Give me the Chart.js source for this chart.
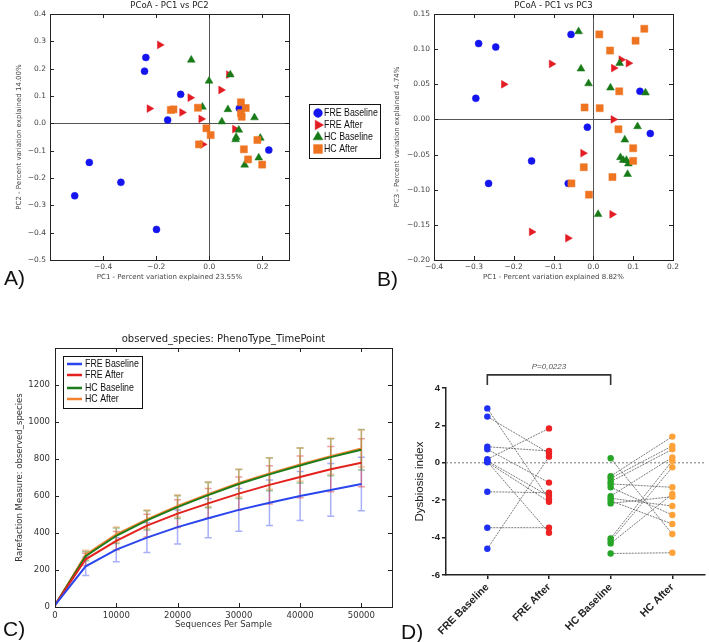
<!DOCTYPE html>
<html>
<head>
<meta charset="utf-8">
<title>Microbiome figure</title>
<script src="https://cdn.jsdelivr.net/npm/chart.js"></script>
<style>
  html, body { margin: 0; padding: 0; background: #fff; }
  body { width: 709px; height: 642px; position: relative; overflow: hidden; font-family: 'Liberation Sans', Arial, sans-serif; }
  canvas { position: absolute; }
  .tag { position: absolute; font-size: 21px; line-height: 1; color: #111; }
</style>
</head>
<body>
<canvas id="pcA" width="390" height="300" style="left:0;top:0"></canvas>
<canvas id="pcB" width="319" height="300" style="left:390px;top:0"></canvas>
<canvas id="rare" width="395" height="322" style="left:0;top:320px"></canvas>
<canvas id="dys" width="329" height="302" style="left:380px;top:340px"></canvas>
<div class="tag" style="left:4px;top:267px">A)</div>
<div class="tag" style="left:377px;top:268px">B)</div>
<div class="tag" style="left:3px;top:618px">C)</div>
<div class="tag" style="left:401px;top:621px">D)</div>

<script>
// PCoA PC1 vs PC2  [pc1, pc2]
const aFreBaseline = [[-0.239,0.241],[-0.244,0.191],[-0.108,0.106],[-0.157,0.012],[0.113,0.055],[0.224,-0.098],[-0.452,-0.143],[-0.333,-0.216],[-0.507,-0.265],[-0.199,-0.388]];
const aFreAfter = [[-0.187,0.287],[0.073,0.178],[0.044,0.122],[-0.072,0.094],[-0.226,0.054],[-0.103,0.040],[-0.031,0.016],[0.096,-0.021],[-0.025,-0.077]];
const aHcBaseline = [[-0.068,0.232],[0.079,0.178],[-0.001,0.155],[-0.026,0.060],[0.070,0.051],[0.170,0.021],[0.047,0.006],[0.111,-0.024],[0.101,-0.051],[0.099,-0.059],[0.192,-0.054],[0.186,-0.126],[0.133,-0.152]];
const aHcAfter = [[0.119,0.077],[0.137,0.056],[0.119,0.037],[0.122,0.024],[-0.145,0.049],[-0.135,0.051],[-0.043,0.057],[-0.011,-0.018],[0.005,-0.043],[-0.039,-0.077],[0.181,-0.061],[0.130,-0.095],[0.146,-0.132],[0.199,-0.151]];

// PCoA PC1 vs PC3  [pc1, pc3]
const bFreBaseline = [[-0.288,0.108],[-0.245,0.103],[-0.056,0.121],[-0.295,0.030],[0.117,0.040],[-0.015,-0.011],[0.143,-0.020],[-0.155,-0.059],[-0.263,-0.091],[-0.063,-0.091]];
const bFreAfter = [[-0.105,0.079],[-0.225,0.050],[0.070,0.085],[0.088,0.080],[0.051,0.073],[0.050,0.000],[-0.026,-0.048],[0.047,-0.135],[-0.155,-0.160],[-0.064,-0.169]];
const bHcBaseline = [[-0.037,0.125],[-0.031,0.072],[-0.012,0.051],[0.066,0.080],[0.043,0.045],[0.131,0.038],[0.111,-0.010],[0.079,-0.029],[0.068,-0.054],[0.075,-0.058],[0.083,-0.058],[0.088,-0.063],[0.086,-0.078],[0.012,-0.135]];
const bHcAfter = [[0.128,0.129],[0.106,0.112],[0.015,0.121],[0.042,0.098],[0.065,0.040],[-0.022,0.017],[0.016,0.016],[0.063,-0.014],[0.100,-0.041],[0.100,-0.059],[0.048,-0.082],[-0.024,-0.068],[-0.055,-0.091],[-0.011,-0.107]];

// rarefaction curves (mean and error)
const depth = [0, 5000, 10000, 15000, 20000, 25000, 30000, 35000, 40000, 45000, 50000];
const depthTicks = [0, 10000, 20000, 30000, 40000, 50000];
const rareFreBaseline = [10, 220, 310, 375, 432, 480, 525, 563, 600, 633, 665];
const rareFreBaselineErr = [0, 50, 65, 80, 92, 105, 115, 123, 133, 143, 145];
const rareFreAfter = [10, 258, 358, 440, 505, 560, 613, 660, 703, 745, 780];
const rareFreAfterErr = [0, 33, 50, 62, 75, 80, 90, 103, 113, 122, 130];
const rareHcBaseline = [10, 275, 385, 468, 540, 605, 665, 717, 765, 810, 850];
const rareHcBaselineErr = [0, 25, 42, 52, 62, 68, 78, 88, 95, 100, 110];
const rareHcAfter = [10, 282, 392, 474, 547, 610, 670, 722, 770, 815, 857];
const rareHcAfterErr = [0, 25, 40, 50, 60, 67, 75, 85, 90, 97, 100];

// dysbiosis index, paired by position
const dysGroups = ['FRE Baseline', 'FRE After', 'HC Baseline', 'HC After'];
const dysFreBaseline = [2.91, 2.47, 0.86, 0.72, 0.19, 0.10, 0.06, 0.03, -1.55, -3.47, -4.60];
const dysFreAfter = [-1.95, 0.51, 0.63, -1.06, 1.84, -1.78, -3.74, -2.08, -1.60, -3.47, 0.33];
const dysHcBaseline = [0.24, -0.71, -0.83, -1.01, -1.13, -1.31, -1.78, -1.90, -2.03, -2.17, -4.04, -4.17, -4.31, -4.85];
const dysHcAfter = [-3.81, 1.40, 0.90, 0.72, -1.31, -2.79, 0.29, -2.31, -3.27, -1.81, 0.11, -0.24, -1.67, -4.81];
const dysPText = 'P=0,0223';

Chart.defaults.font.family = "'DejaVu Sans', sans-serif";
Chart.defaults.color = '#333';

const blue = '#1414ee', red = '#e31b23', green = '#177a17', orange = '#ee7421';
const legendFont = "11px 'Liberation Sans', sans-serif";

function signed(dec) {
  return v => Math.abs(v) < 1e-9 ? (0).toFixed(dec) : (v < 0 ? '\u2212' : '') + Math.abs(v).toFixed(dec);
}
function pts(pairs) {
  return pairs.map(p => ({ x: p[0], y: p[1] }));
}

// title centred over the plot box
const headPlugin = {
  id: 'head',
  afterDraw(chart, args, o) {
    const { ctx, chartArea: a } = chart;
    ctx.save();
    ctx.font = o.font;
    ctx.fillStyle = '#222';
    ctx.textAlign = 'center';
    ctx.textBaseline = 'middle';
    ctx.fillText(o.text, (a.left + a.right) / 2, o.y);
    ctx.restore();
  }
};

// matplotlib style box with inward ticks
const framePlugin = {
  id: 'frame',
  afterDatasetsDraw(chart) {
    const { ctx, chartArea: a, scales } = chart;
    const len = 4;
    ctx.save();
    ctx.strokeStyle = '#222';
    ctx.lineWidth = 1;
    ctx.beginPath();
    scales.x.ticks.forEach(t => {
      const px = Math.round(scales.x.getPixelForValue(t.value)) + 0.5;
      ctx.moveTo(px, a.bottom); ctx.lineTo(px, a.bottom - len);
      ctx.moveTo(px, a.top); ctx.lineTo(px, a.top + len);
    });
    scales.y.ticks.forEach(t => {
      const py = Math.round(scales.y.getPixelForValue(t.value)) + 0.5;
      ctx.moveTo(a.left, py); ctx.lineTo(a.left + len, py);
      ctx.moveTo(a.right, py); ctx.lineTo(a.right - len, py);
    });
    ctx.stroke();
    ctx.strokeRect(Math.round(a.left) + 0.5, Math.round(a.top) + 0.5,
      Math.round(a.right - a.left), Math.round(a.bottom - a.top));
    ctx.restore();
  }
};

// boxed legend at a fixed spot (text squeezed a bit, like the narrow original font)
const boxLegend = {
  id: 'boxLegend',
  afterDraw(chart, args, o) {
    const ctx = chart.ctx;
    ctx.save();
    ctx.fillStyle = '#fff';
    ctx.fillRect(o.left, o.top, o.width, o.height);
    ctx.strokeStyle = '#111';
    ctx.lineWidth = 1;
    ctx.strokeRect(o.left + 0.5, o.top + 0.5, o.width, o.height);
    chart.data.datasets.forEach((ds, i) => {
      const y = o.rows[i];
      if (y === undefined) return;
      if (o.kind === 'line') {
        ctx.strokeStyle = ds.borderColor;
        ctx.lineWidth = 2.5;
        ctx.beginPath();
        ctx.moveTo(o.markX, y);
        ctx.lineTo(o.markX + 15, y);
        ctx.stroke();
      } else {
        ctx.fillStyle = ds.backgroundColor;
        ctx.strokeStyle = ds.borderColor;
        ctx.lineWidth = 0.5;
        Chart.helpers.drawPoint(ctx, {
          pointStyle: ds.pointStyle, rotation: ds.pointRotation || 0,
          radius: ds.pointRadius * 1.25, borderWidth: 0.5
        }, o.markX, y);
      }
      ctx.save();
      ctx.translate(o.textX, y);
      ctx.scale(o.squeeze, 1);
      ctx.font = legendFont;
      ctx.textBaseline = 'middle';
      ctx.textAlign = 'left';
      ctx.fillStyle = '#111';
      ctx.fillText(ds.label, 0, 0);
      ctx.restore();
    });
    ctx.restore();
  }
};

// vertical error bars from dataset.errors
const errorBars = {
  id: 'errorBars',
  beforeDatasetsDraw(chart) {
    const ctx = chart.ctx;
    const ys = chart.scales.y;
    chart.data.datasets.forEach((ds, i) => {
      if (!ds.errors) return;
      const meta = chart.getDatasetMeta(i);
      ctx.save();
      ctx.strokeStyle = ds.errorColor;
      ctx.lineWidth = 1.5;
      ctx.beginPath();
      meta.data.forEach((el, j) => {
        const e = ds.errors[j];
        if (!e) return;
        const v = ds.data[j].y;
        const top = ys.getPixelForValue(v + e);
        const bot = ys.getPixelForValue(v - e);
        ctx.moveTo(el.x, top); ctx.lineTo(el.x, bot);
        ctx.moveTo(el.x - 3.5, top); ctx.lineTo(el.x + 3.5, top);
        ctx.moveTo(el.x - 3.5, bot); ctx.lineTo(el.x + 3.5, bot);
      });
      ctx.stroke();
      ctx.restore();
    });
  }
};

// p value above the bracket
const pNote = {
  id: 'pNote',
  afterDraw(chart, args, o) {
    const { ctx, scales } = chart;
    ctx.save();
    ctx.font = "italic 8px 'Liberation Sans', sans-serif";
    ctx.fillStyle = '#555';
    ctx.textAlign = 'center';
    ctx.textBaseline = 'middle';
    ctx.fillText(o.text, scales.x.getPixelForValue(o.x), scales.y.getPixelForValue(o.y));
    ctx.restore();
  }
};

function scatterSet(label, pairs, color, style, rot, r, order) {
  return {
    label: label, data: pts(pairs), order: order,
    pointStyle: style, pointRotation: rot, pointRadius: r,
    backgroundColor: color, borderColor: color, borderWidth: 0.5
  };
}

const tickFont = { size: 7.5 };
const zeroGrid = {
  drawTicks: false,
  color: c => (c.tick && Math.abs(c.tick.value) < 1e-9) ? '#555' : 'rgba(0,0,0,0)'
};

function pcoaChart(id, sets, cfg) {
  return new Chart(document.getElementById(id), {
    type: 'scatter',
    data: {
      datasets: [
        scatterSet('FRE Baseline', sets[0], blue, 'circle', 0, 3.5, 3),
        scatterSet('FRE After', sets[1], red, 'triangle', 90, 4.5, 2),
        scatterSet('HC Baseline', sets[2], green, 'triangle', 0, 4.5, 1),
        scatterSet('HC After', sets[3], orange, 'rect', 0, 5, 0)
      ]
    },
    plugins: cfg.legend ? [headPlugin, framePlugin, boxLegend] : [headPlugin, framePlugin],
    options: {
      responsive: false,
      animation: false,
      events: [],
      layout: { padding: { left: 0, top: 14, right: cfg.right, bottom: 16 } },
      plugins: {
        legend: { display: false },
        tooltip: { enabled: false },
        head: { text: cfg.title, y: 6, font: "8.5px 'DejaVu Sans', sans-serif" },
        boxLegend: cfg.legend
      },
      scales: {
        x: {
          type: 'linear', min: cfg.xMin, max: cfg.xMax,
          afterFit: s => { s.height = 24; },
          ticks: { stepSize: cfg.xStep, includeBounds: false, maxRotation: 0, padding: 3,
                   font: tickFont, color: '#444', callback: signed(1) },
          grid: zeroGrid,
          border: { display: false },
          title: { display: true, text: cfg.xTitle, font: { size: 7 }, color: '#444', padding: { top: 0, bottom: 3 } }
        },
        y: {
          min: cfg.yMin, max: cfg.yMax,
          afterFit: s => { s.width = cfg.yWidth; },
          ticks: { stepSize: cfg.yStep, includeBounds: false, padding: 4,
                   font: tickFont, color: '#444', callback: signed(cfg.yDec) },
          grid: zeroGrid,
          border: { display: false },
          title: { display: true, text: cfg.yTitle, font: { size: 7 }, color: '#444', padding: { top: cfg.yTitlePad, bottom: 0 } }
        }
      }
    }
  });
}

pcoaChart('pcA', [aFreBaseline, aFreAfter, aHcBaseline, aHcAfter], {
  title: 'PCoA - PC1 vs PC2',
  xTitle: 'PC1 - Percent variation explained 23.55%',
  yTitle: 'PC2 - Percent variation explained 14.00%',
  xMin: -0.6, xMax: 0.3, xStep: 0.2,
  yMin: -0.5, yMax: 0.4, yStep: 0.1, yDec: 1,
  yWidth: 50, yTitlePad: 15, right: 101,
  legend: { left: 309, top: 104, width: 71, height: 54, rows: [113, 125, 137, 149], markX: 318, textX: 324, squeeze: 0.8 }
});

pcoaChart('pcB', [bFreBaseline, bFreAfter, bHcBaseline, bHcAfter], {
  title: 'PCoA - PC1 vs PC3',
  xTitle: 'PC1 - Percent variation explained 8.82%',
  yTitle: 'PC3 - Percent variation explained 4.74%',
  xMin: -0.4, xMax: 0.2, xStep: 0.1,
  yMin: -0.2, yMax: 0.15, yStep: 0.05, yDec: 2,
  yWidth: 44, yTitlePad: 3, right: 36,
  legend: null
});

// rarefaction
function curve(label, vals, errs, color, errColor) {
  return {
    label: label,
    data: depth.map((d, i) => ({ x: d, y: vals[i] })),
    errors: errs, errorColor: errColor,
    borderColor: color, borderWidth: 2, pointRadius: 0, tension: 0, fill: false
  };
}

new Chart(document.getElementById('rare'), {
  type: 'line',
  data: {
    datasets: [
      curve('FRE Baseline', rareFreBaseline, rareFreBaselineErr, '#2b45ee', 'rgba(60,80,240,0.45)'),
      curve('FRE After', rareFreAfter, rareFreAfterErr, '#e4221d', 'rgba(225,40,40,0.45)'),
      curve('HC Baseline', rareHcBaseline, rareHcBaselineErr, '#1d7d1d', 'rgba(40,130,40,0.45)'),
      curve('HC After', rareHcAfter, rareHcAfterErr, '#f3812d', 'rgba(240,130,50,0.45)')
    ]
  },
  plugins: [errorBars, headPlugin, framePlugin, boxLegend],
  options: {
    responsive: false,
    animation: false,
    events: [],
    layout: { padding: { left: 0, top: 28, right: 3, bottom: 11 } },
    plugins: {
      legend: { display: false },
      tooltip: { enabled: false },
      head: { text: 'observed_species: PhenoType_TimePoint', y: 19, font: "10px 'DejaVu Sans', sans-serif" },
      boxLegend: { kind: 'line', left: 63, top: 36, width: 79, height: 52, rows: [44, 55, 68, 79], markX: 67, textX: 85, squeeze: 0.8 }
    },
    scales: {
      x: {
        type: 'linear', min: 0, max: 55000,
        afterFit: s => { s.height = 24; },
        afterBuildTicks: s => { s.ticks = depthTicks.map(v => ({ value: v })); },
        ticks: { maxRotation: 0, padding: 4, autoSkip: false,
                 font: { size: 8.5 }, color: '#333', callback: v => String(v) },
        grid: { display: false, drawTicks: false },
        border: { display: false },
        title: { display: true, text: 'Sequences Per Sample', font: { size: 8.5 }, color: '#333', padding: { top: 0, bottom: 1 } }
      },
      y: {
        min: 0, max: 1400,
        afterFit: s => { s.width = 55; },
        afterBuildTicks: s => { s.ticks = s.ticks.filter(t => t.value <= 1200); },
        ticks: { stepSize: 200, padding: 5, font: { size: 8.5 }, color: '#333', callback: v => String(v) },
        grid: { display: false, drawTicks: false },
        border: { display: false },
        title: { display: true, text: 'Rarefaction Measure: observed_species', font: { size: 8.5 }, color: '#333', padding: { top: 15, bottom: 0 } }
      }
    }
  }
});

// dysbiosis index
const pairLines = [];
dysFreBaseline.forEach((v, i) => {
  pairLines.push({ x: 0, y: v }, { x: 1, y: dysFreAfter[i] }, { x: 0.5, y: null });
});
dysHcBaseline.forEach((v, i) => {
  pairLines.push({ x: 2, y: v }, { x: 3, y: dysHcAfter[i] }, { x: 2.5, y: null });
});

const dysXMin = -0.67, dysXMax = 3.53;

function dots(vals, pos, color) {
  return {
    data: vals.map(v => ({ x: pos, y: v })),
    pointRadius: 3.2, pointStyle: 'circle',
    backgroundColor: color, borderColor: color, borderWidth: 0
  };
}

const boldTick = { family: "'Liberation Sans', sans-serif", size: 9.5, weight: 'bold' };

new Chart(document.getElementById('dys'), {
  type: 'scatter',
  data: {
    datasets: [
      dots(dysFreBaseline, 0, '#1f2ff5'),
      dots(dysFreAfter, 1, '#ee2222'),
      dots(dysHcBaseline, 2, '#27a527'),
      dots(dysHcAfter, 3, '#ffa23a'),
      { data: pairLines, showLine: true, spanGaps: false, pointRadius: 0,
        borderColor: 'rgba(90,90,90,0.8)', borderWidth: 1, borderDash: [2, 1] },
      { data: [{ x: dysXMin, y: 0 }, { x: dysXMax, y: 0 }], showLine: true, pointRadius: 0,
        borderColor: '#777', borderWidth: 1, borderDash: [2, 2] },
      { data: [{ x: 0, y: 4.16 }, { x: 0, y: 4.7 }, { x: 2, y: 4.7 }, { x: 2, y: 4.16 }],
        showLine: true, pointRadius: 0, clip: false, borderColor: '#333', borderWidth: 1.6 }
    ]
  },
  plugins: [pNote],
  options: {
    responsive: false,
    animation: false,
    events: [],
    layout: { padding: { left: 0, top: 48, right: 0, bottom: 0 } },
    plugins: {
      legend: { display: false },
      tooltip: { enabled: false },
      pNote: { text: dysPText, x: 1, y: 5.12 }
    },
    scales: {
      x: {
        type: 'linear', min: dysXMin, max: dysXMax,
        afterFit: s => { s.height = 67; },
        afterBuildTicks: s => { s.ticks = dysGroups.map((g, i) => ({ value: i })); },
        ticks: { minRotation: 45, maxRotation: 45, padding: 2, color: '#222',
                 font: { family: "'Liberation Sans', sans-serif", size: 10.5, weight: 'bold' },
                 callback: v => dysGroups[v] },
        grid: { drawOnChartArea: false, tickLength: 4, color: '#222', lineWidth: 1.5 },
        border: { color: '#222', width: 1.5 }
      },
      y: {
        min: -6, max: 4,
        afterFit: s => { s.width = 66; },
        ticks: { stepSize: 2, padding: 2, font: boldTick, color: '#222' },
        grid: { drawOnChartArea: false, tickLength: 4, color: '#222', lineWidth: 1.5 },
        border: { color: '#222', width: 1.5 },
        title: { display: true, text: 'Dysbiosis index', font: { family: "'Liberation Sans', sans-serif", size: 11.5 },
                 color: '#222', padding: { top: 33, bottom: 0 } }
      }
    }
  }
});
</script>
</body>
</html>
